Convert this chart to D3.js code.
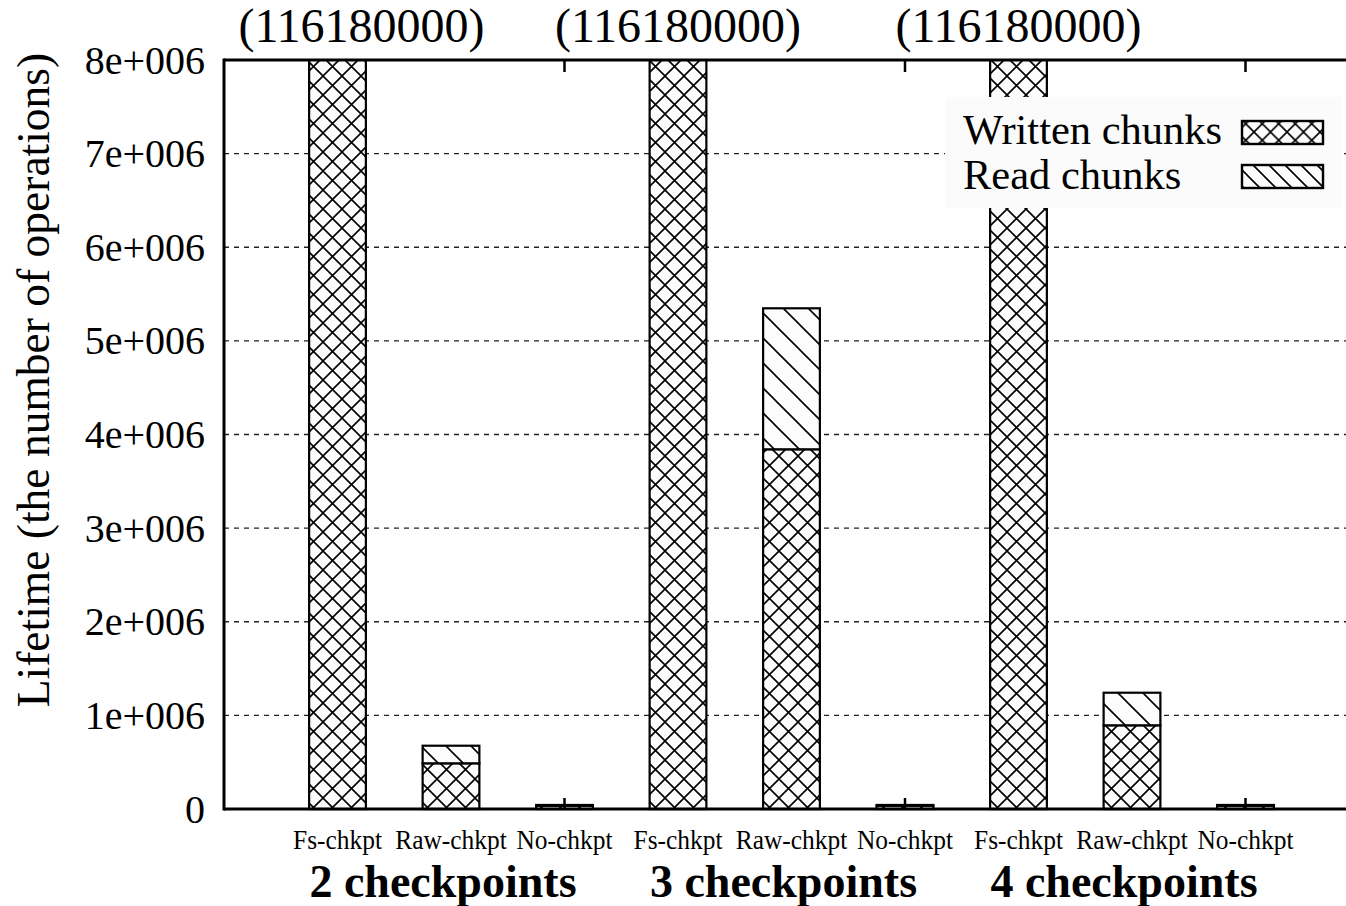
<!DOCTYPE html>
<html>
<head>
<meta charset="utf-8">
<script src="https://cdn.jsdelivr.net/npm/d3@7"></script>
<style>
  body { margin: 0; background: #ffffff; }
  svg text { font-family: "Liberation Serif", "Times New Roman", serif; fill: #000; }
</style>
</head>
<body>
<div id="chart"></div>
<script>
// bars, left to right
const categories = ["Fs-chkpt", "Raw-chkpt", "No-chkpt"];
const groups = ["2 checkpoints", "3 checkpoints", "4 checkpoints"];
const writtenChunks = [116180000, 488000, 35000, 116180000, 3842000, 35000, 116180000, 894000, 35000];
const readChunks = [0, 188000, 8000, 0, 1506000, 8000, 0, 348000, 8000];
const yTicks = [0, 1e6, 2e6, 3e6, 4e6, 5e6, 6e6, 7e6, 8e6];
const seriesNames = ["Written chunks", "Read chunks"];

const width = 1346;
const height = 906;
const plotLeft = 224, plotTop = 60, plotBottom = 809, plotRight = 1359;

const svg = d3.select("#chart")
  .append("svg")
  .attr("width", width)
  .attr("height", height);

svg.append("rect").attr("width", width).attr("height", height).attr("fill", "#fff");

// Patterns for the two series
const defs = svg.append("defs");
function crossPattern(id, size) {
  const p = defs.append("pattern")
    .attr("id", id)
    .attr("patternUnits", "userSpaceOnUse")
    .attr("width", size).attr("height", size);
  p.append("rect").attr("width", size).attr("height", size).attr("fill", "#fcfcfc");
  p.append("path")
    .attr("d", `M0,0 L${size},${size} M0,${size} L${size},0`)
    .attr("stroke", "#000").attr("stroke-width", 1.6);
}
function slashPattern(id, size) {
  const p = defs.append("pattern")
    .attr("id", id)
    .attr("patternUnits", "userSpaceOnUse")
    .attr("width", size).attr("height", size);
  p.append("rect").attr("width", size).attr("height", size).attr("fill", "#fcfcfc");
  p.append("path")
    .attr("d", `M0,0 L${size},${size} M${-size},0 L${size},${2 * size} M0,${-size} L${2 * size},${size}`)
    .attr("stroke", "#000").attr("stroke-width", 1.6);
}
crossPattern("cross", 19);
slashPattern("slash", 25);
crossPattern("crossKey", 16.5);
slashPattern("slashKey", 16);

defs.append("clipPath").attr("id", "plotClip")
  .append("rect")
  .attr("x", plotLeft - 5).attr("y", plotTop)
  .attr("width", plotRight - plotLeft + 10).attr("height", plotBottom - plotTop + 5);

// Scales
const x = d3.scaleLinear().domain([0, writtenChunks.length + 1]).range([plotLeft, plotRight]);
const y = d3.scaleLinear().domain([0, 8e6]).range([plotBottom, plotTop]);
const barW = (x(1) - x(0)) / 2;

const bars = writtenChunks.map((w, i) => ({
  i: i,
  written: w,
  read: readChunks[i],
  category: categories[i % categories.length]
}));

// Grid lines
svg.append("g")
  .selectAll("line")
  .data(yTicks.filter(t => t > 0 && t < 8e6))
  .enter()
  .append("line")
  .attr("x1", plotLeft).attr("x2", plotRight)
  .attr("y1", d => y(d)).attr("y2", d => y(d))
  .attr("stroke", "#222")
  .attr("stroke-width", 1.3)
  .attr("stroke-dasharray", "5,5");

// Bars (clipped at the top of the plot)
const barG = svg.append("g").attr("clip-path", "url(#plotClip)");

barG.selectAll("rect.written")
  .data(bars)
  .enter()
  .append("rect")
  .attr("class", "written")
  .attr("x", d => x(d.i + 1) - barW / 2)
  .attr("width", barW)
  .attr("y", d => y(d.written))
  .attr("height", d => y(0) - y(d.written))
  .attr("fill", "url(#cross)")
  .attr("stroke", "#000")
  .attr("stroke-width", 2.2);

barG.selectAll("rect.read")
  .data(bars.filter(d => d.read > 0))
  .enter()
  .append("rect")
  .attr("class", "read")
  .attr("x", d => x(d.i + 1) - barW / 2)
  .attr("width", barW)
  .attr("y", d => y(d.written + d.read))
  .attr("height", d => y(d.written) - y(d.written + d.read))
  .attr("fill", "url(#slash)")
  .attr("stroke", "#000")
  .attr("stroke-width", 2.2);

// Legend (opaque box)
const legend = svg.append("g");
legend.append("rect")
  .attr("x", 945).attr("y", 97)
  .attr("width", 397).attr("height", 111)
  .attr("fill", "#fbfbfb");
const keyFills = ["url(#crossKey)", "url(#slashKey)"];
seriesNames.forEach((name, k) => {
  legend.append("text")
    .attr("x", 963).attr("y", 144 + k * 45)
    .attr("font-size", 42.5)
    .text(name);
  legend.append("rect")
    .attr("x", 1242).attr("y", 121 + k * 44)
    .attr("width", 81).attr("height", 23)
    .attr("fill", keyFills[k])
    .attr("stroke", "#000")
    .attr("stroke-width", 2.4);
});

// Axes frame
const axisG = svg.append("g");
axisG.append("line")
  .attr("x1", plotLeft).attr("x2", plotRight)
  .attr("y1", plotBottom).attr("y2", plotBottom)
  .attr("stroke", "#000").attr("stroke-width", 3);
axisG.append("line")
  .attr("x1", plotLeft).attr("x2", plotRight)
  .attr("y1", plotTop).attr("y2", plotTop)
  .attr("stroke", "#000").attr("stroke-width", 3);
axisG.append("line")
  .attr("x1", plotLeft).attr("x2", plotLeft)
  .attr("y1", plotTop - 1.5).attr("y2", plotBottom + 1.5)
  .attr("stroke", "#000").attr("stroke-width", 3);

// x tick marks at the end of each group (bottom and mirrored top)
const groupEnds = bars.filter(d => d.category === "No-chkpt");
axisG.selectAll("line.tb")
  .data(groupEnds)
  .enter()
  .append("line")
  .attr("x1", d => x(d.i + 1)).attr("x2", d => x(d.i + 1))
  .attr("y1", plotBottom).attr("y2", plotBottom - 11)
  .attr("stroke", "#000").attr("stroke-width", 2.5);
axisG.selectAll("line.tt")
  .data(groupEnds)
  .enter()
  .append("line")
  .attr("x1", d => x(d.i + 1)).attr("x2", d => x(d.i + 1))
  .attr("y1", plotTop).attr("y2", plotTop + 12)
  .attr("stroke", "#000").attr("stroke-width", 2.5);

// y tick labels
const fmt = v => v === 0 ? "0" : (v / 1e6) + "e+006";
svg.append("g")
  .selectAll("text")
  .data(yTicks)
  .enter()
  .append("text")
  .attr("x", 205)
  .attr("y", d => y(d) + 13.5)
  .attr("text-anchor", "end")
  .attr("font-size", 40)
  .text(fmt);

// y axis title
svg.append("text")
  .attr("transform", "translate(49, 380) rotate(-90)")
  .attr("text-anchor", "middle")
  .attr("font-size", 45.5)
  .text("Lifetime (the number of operations)");

// category labels (slightly condensed, like the original)
svg.append("g")
  .selectAll("text")
  .data(bars)
  .enter()
  .append("text")
  .attr("transform", d => `translate(${x(d.i + 1)}, 849) scale(0.925, 1)`)
  .attr("text-anchor", "middle")
  .attr("font-size", 27.5)
  .text(d => d.category);

// group labels under the middle bar of each group
svg.append("g")
  .selectAll("text")
  .data(groups)
  .enter()
  .append("text")
  .attr("x", (d, g) => x(g * categories.length + 2) - 8)
  .attr("y", 897)
  .attr("text-anchor", "middle")
  .attr("font-size", 46)
  .attr("font-weight", "bold")
  .text(d => d);

// values of bars that run off the top
const offTop = bars.filter(d => d.written + d.read > y.domain()[1]);
svg.append("g")
  .selectAll("text")
  .data(offTop)
  .enter()
  .append("text")
  .attr("x", (d, k) => x(d.i + 1) + (k === 0 ? 24 : 0))
  .attr("y", 42)
  .attr("text-anchor", "middle")
  .attr("font-size", 48)
  .text(d => "(" + (d.written + d.read) + ")");
</script>
</body>
</html>
